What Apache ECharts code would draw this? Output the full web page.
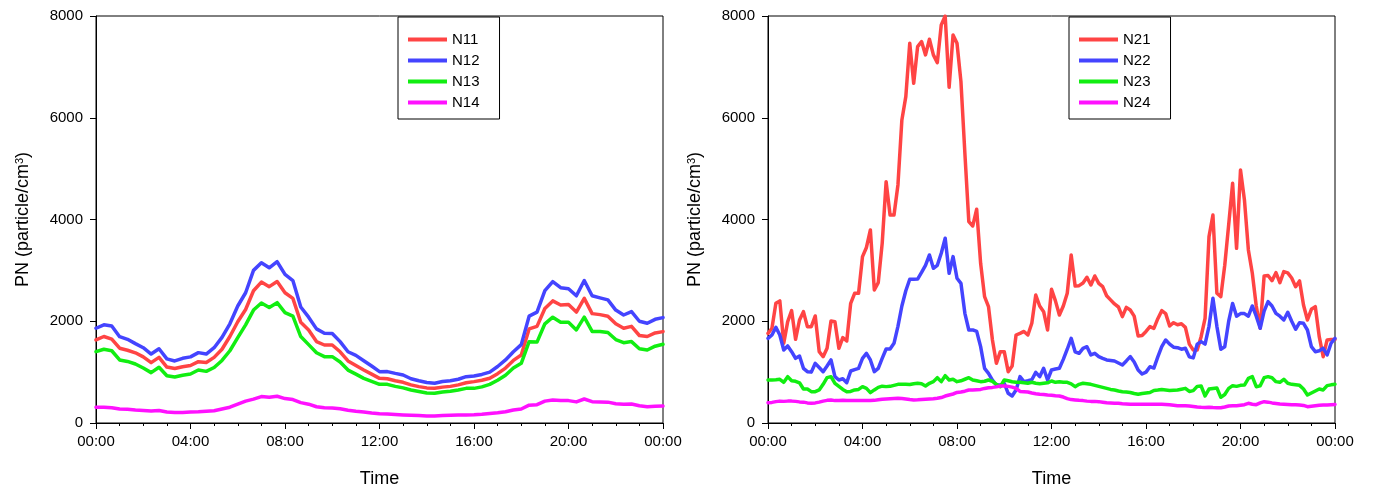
<!DOCTYPE html>
<html>
<head>
<meta charset="utf-8">
<script src="https://cdn.jsdelivr.net/npm/echarts@6/dist/echarts.min.js"></script>
<style>
html,body{margin:0;padding:0;background:#fff;}
#chart{width:1375px;height:495px;}
</style>
</head>
<body>
<div id="chart"></div>
<script>
// Left panel: 20-minute samples from 00:00 to 24:00 (73 values)
const stepLeftHours = 1 / 3;
const N11 = [1632,1700,1650,1470,1430,1380,1300,1186,1290,1100,1070,1107,1130,1206,1190,1290,1450,1700,1990,2230,2600,2770,2680,2780,2560,2450,1980,1830,1600,1533,1533,1400,1220,1130,1042,960,878,870,830,800,750,715,690,681,705,720,750,790,813,840,880,970,1080,1230,1337,1850,1900,2250,2400,2320,2330,2180,2450,2150,2130,2100,1950,1862,1900,1720,1700,1770,1796];
const N12 = [1862,1930,1907,1697,1645,1560,1480,1356,1460,1260,1220,1271,1300,1383,1356,1480,1684,1950,2300,2560,3000,3150,3050,3170,2920,2800,2280,2080,1850,1763,1760,1600,1400,1330,1225,1120,1009,1010,975,944,870,830,795,780,815,830,860,910,924,955,1000,1110,1240,1400,1540,2100,2180,2600,2780,2660,2640,2500,2800,2500,2460,2420,2220,2123,2189,2000,1960,2038,2071];
const N13 = [1402,1450,1420,1239,1210,1160,1080,990,1095,930,905,940,963,1042,1015,1090,1230,1420,1680,1930,2220,2360,2270,2365,2170,2100,1700,1540,1380,1304,1304,1200,1040,960,878,820,760,760,720,690,650,620,590,584,610,625,650,681,681,710,760,840,940,1080,1173,1599,1590,1950,2080,1980,1980,1830,2080,1800,1800,1780,1640,1579,1600,1460,1435,1510,1547];
const N14 = [308,310,300,275,269,255,245,236,245,215,205,208,215,220,230,240,275,310,370,430,470,520,505,525,480,460,400,370,320,300,295,280,250,230,215,195,180,175,165,158,150,145,140,138,145,150,155,158,160,170,185,200,220,255,275,350,360,430,452,440,440,415,472,420,415,410,380,370,375,340,321,330,334];

// Right panel: 10-minute samples from 00:00 to 24:00 (145 values)
const stepRightHours = 1 / 6;
const N21 = [1763,1862,2353,2399,1567,1992,2208,1645,2025,2189,1894,1894,2104,1402,1304,1468,2005,1992,1468,1678,1612,2353,2550,2550,3270,3450,3794,2615,2759,3532,4744,4089,4089,4679,5957,6415,7465,6678,7399,7497,7235,7543,7235,7084,7825,8000,6599,7628,7465,6710,5302,3958,3873,4201,3139,2484,2287,1632,1173,1402,1402,1009,1121,1730,1763,1800,1730,1960,2516,2300,2189,1828,2628,2400,2123,2300,2550,3303,2693,2700,2750,2864,2713,2890,2746,2680,2500,2420,2340,2280,2090,2274,2220,2100,1710,1720,1800,1894,1860,2050,2208,2150,1907,1972,1930,1950,1880,1550,1435,1435,1697,2058,3663,4089,2550,2484,3100,3900,4712,3434,4973,4384,3401,2943,2300,1862,2890,2900,2798,2955,2759,2975,2950,2850,2680,2792,2320,2025,2235,2287,1697,1304,1632,1640,1640];
const N22 = [1665,1730,1881,1730,1435,1514,1402,1271,1317,1075,1009,1000,1173,1090,1009,1121,1239,911,845,870,793,1022,1050,1075,1271,1370,1239,1009,1075,1271,1455,1455,1567,1900,2300,2600,2825,2825,2830,2960,3100,3303,3041,3100,3336,3631,2943,3270,2845,2746,2156,1828,1830,1800,1500,1075,977,845,747,747,780,584,531,649,911,813,830,850,996,911,1075,845,1042,1060,1075,1250,1450,1665,1400,1370,1468,1500,1337,1370,1304,1270,1239,1230,1219,1180,1140,1220,1304,1200,1040,963,1000,1107,1080,1300,1500,1632,1550,1490,1480,1450,1468,1300,1280,1550,1600,1550,1900,2450,1900,1450,1500,2000,2350,2100,2150,2150,2100,2300,2100,1862,2200,2385,2300,2156,2100,2025,2176,2000,1842,1972,1960,1828,1500,1402,1420,1468,1337,1567,1665];
const N23 = [845,845,850,858,800,911,830,820,790,668,668,616,616,650,760,891,911,780,720,660,616,620,650,660,714,680,596,650,700,724,715,720,740,760,760,760,755,770,780,770,727,780,813,891,813,930,845,860,813,830,860,891,845,830,813,820,845,820,760,714,845,830,810,800,800,790,780,800,780,770,780,790,826,800,810,800,800,770,714,760,780,770,760,740,720,700,680,660,649,630,616,610,600,580,564,580,590,600,640,649,660,650,640,645,650,665,681,620,636,720,727,531,668,680,690,505,560,680,734,720,740,745,878,911,714,730,891,911,890,813,800,858,780,760,750,740,668,551,590,630,668,650,734,750,760];
const N24 = [400,405,420,430,425,430,430,425,415,410,395,387,395,410,430,445,452,440,440,445,440,440,440,440,440,440,440,445,455,466,470,475,480,485,480,470,460,452,455,460,465,470,475,485,500,530,551,570,600,610,625,649,650,655,660,680,694,700,710,727,727,720,705,680,620,616,610,590,575,564,560,551,545,535,531,510,480,460,452,445,440,430,425,425,420,410,400,395,390,387,380,375,367,367,367,370,370,370,368,368,367,365,360,350,341,341,338,335,325,315,308,305,310,305,302,300,315,335,340,340,350,360,387,370,360,395,419,410,395,385,375,370,365,360,360,355,345,321,330,340,350,355,355,360,365];

const xTickHours = [0, 4, 8, 12, 16, 20, 24];
const yTicks = [0, 2000, 4000, 6000, 8000];

const colors = {red: '#FF4444', blue: '#4444FF', green: '#11EE11', magenta: '#FF11FF'};
const FONT = '"Liberation Sans", Arial, sans-serif';

function toPairs(arr, step) { return arr.map((v, i) => [i * step, v]); }
function fmtHour(v) { const h = Math.round(v) % 24; return (h < 10 ? '0' : '') + h + ':00'; }

function xAxisDef(gridIndex) {
  return {
    type: 'value', gridIndex: gridIndex, min: xTickHours[0], max: xTickHours[xTickHours.length - 1], interval: 4,
    name: 'Time', nameLocation: 'middle', nameGap: 47,
    nameTextStyle: {fontFamily: FONT, fontSize: 18, color: '#000'},
    axisLine: {show: true, onZero: false, lineStyle: {color: '#000', width: 1}},
    axisTick: {show: true, inside: false, length: 6, lineStyle: {color: '#000'}},
    minorTick: {show: true, splitNumber: 4, length: 3, lineStyle: {color: '#000'}},
    axisLabel: {fontFamily: FONT, fontSize: 15, color: '#000', margin: 11, formatter: fmtHour, showMinLabel: true, showMaxLabel: true},
    splitLine: {show: false}
  };
}
function yAxisDef(gridIndex) {
  return {
    type: 'value', gridIndex: gridIndex, min: yTicks[0], max: yTicks[yTicks.length - 1], interval: 2000,
    name: '{a|PN (particle/cm}{s|3}{a|)}', nameLocation: 'middle', nameGap: 64, nameRotate: 90,
    nameTextStyle: {
      fontFamily: FONT, fontSize: 18, color: '#000',
      rich: {
        a: {fontFamily: FONT, fontSize: 18, color: '#000'},
        s: {fontFamily: FONT, fontSize: 11, color: '#000', verticalAlign: 'top', lineHeight: 12, padding: [0, 0, 0, 0]}
      }
    },
    axisLine: {show: true, lineStyle: {color: '#000', width: 1}},
    axisTick: {show: true, inside: false, length: 6, lineStyle: {color: '#000'}},
    axisLabel: {fontFamily: FONT, fontSize: 15, color: '#000', margin: 13, formatter: function (v) { return String(v); }},
    splitLine: {show: false}
  };
}
function lineSeries(name, data, color, xi, yi) {
  return {
    name: name, type: 'line', xAxisIndex: xi, yAxisIndex: yi, data: data,
    showSymbol: false, symbol: 'none', smooth: false, animation: false,
    lineStyle: {color: color, width: 3.5, cap: 'round', join: 'round'},
    itemStyle: {color: color}
  };
}
function legendDef(names, left) {
  return {
    orient: 'vertical', left: left, top: 17,
    data: names, icon: 'rect', itemWidth: 39, itemHeight: 4, itemGap: 6,
    textStyle: {fontFamily: FONT, fontSize: 15, color: '#000'},
    borderColor: '#000', borderWidth: 1, borderRadius: 0,
    padding: [15, 20, 9, 10], backgroundColor: '#fff'
  };
}

const chart = echarts.init(document.getElementById('chart'), null, {renderer: 'canvas'});
chart.setOption({
  backgroundColor: '#fff',
  animation: false,
  grid: [
    {left: 96, right: 712, top: 16, bottom: 72, show: true, borderColor: '#000', borderWidth: 1, containLabel: false},
    {left: 768, right: 40, top: 16, bottom: 72, show: true, borderColor: '#000', borderWidth: 1, containLabel: false}
  ],
  xAxis: [xAxisDef(0), xAxisDef(1)],
  yAxis: [yAxisDef(0), yAxisDef(1)],
  legend: [legendDef(['N11', 'N12', 'N13', 'N14'], 398), legendDef(['N21', 'N22', 'N23', 'N24'], 1069)],
  series: [
    lineSeries('N11', toPairs(N11, stepLeftHours), colors.red, 0, 0),
    lineSeries('N12', toPairs(N12, stepLeftHours), colors.blue, 0, 0),
    lineSeries('N13', toPairs(N13, stepLeftHours), colors.green, 0, 0),
    lineSeries('N14', toPairs(N14, stepLeftHours), colors.magenta, 0, 0),
    lineSeries('N21', toPairs(N21, stepRightHours), colors.red, 1, 1),
    lineSeries('N22', toPairs(N22, stepRightHours), colors.blue, 1, 1),
    lineSeries('N23', toPairs(N23, stepRightHours), colors.green, 1, 1),
    lineSeries('N24', toPairs(N24, stepRightHours), colors.magenta, 1, 1)
  ]
});
</script>
</body>
</html>
